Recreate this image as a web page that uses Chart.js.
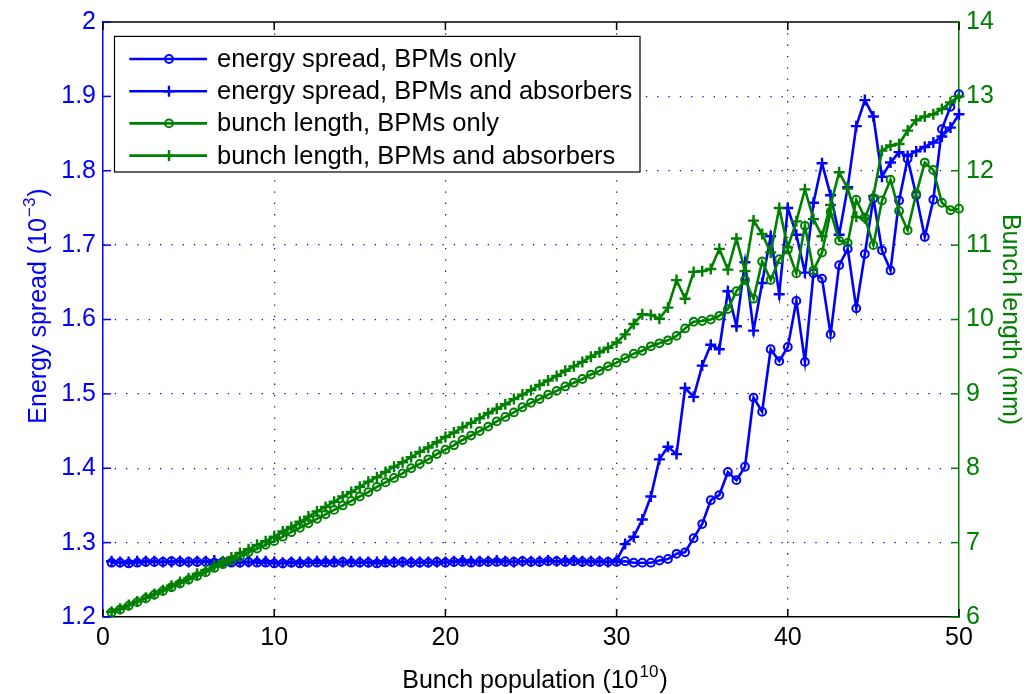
<!DOCTYPE html>
<html><head><meta charset="utf-8">
<script src="https://cdn.jsdelivr.net/npm/chart.js@4.4.1/dist/chart.umd.min.js"></script>
<style>html,body{margin:0;padding:0;background:#fff;overflow:hidden}#wrap{width:1030px;height:694px;position:relative}</style>
</head><body><div id="wrap"><canvas id="c" width="1030" height="694"></canvas></div>
<script>
const xValues = [
0.5,1,1.5,2,2.5,3,3.5,4,4.5,5,
5.5,6,6.5,7,7.5,8,8.5,9,9.5,10,
10.5,11,11.5,12,12.5,13,13.5,14,14.5,15,
15.5,16,16.5,17,17.5,18,18.5,19,19.5,20,
20.5,21,21.5,22,22.5,23,23.5,24,24.5,25,
25.5,26,26.5,27,27.5,28,28.5,29,29.5,30,
30.5,31,31.5,32,32.5,33,33.5,34,34.5,35,
35.5,36,36.5,37,37.5,38,38.5,39,39.5,40,
40.5,41,41.5,42,42.5,43,43.5,44,44.5,45,
45.5,46,46.5,47,47.5,48,48.5,49,49.5,50];

const energyBpmOnly = [
1.273,1.273,1.272,1.273,1.274,1.274,1.274,1.275,1.274,1.274,
1.274,1.274,1.273,1.274,1.273,1.273,1.274,1.273,1.273,1.272,
1.272,1.273,1.272,1.273,1.273,1.273,1.273,1.274,1.273,1.273,
1.273,1.272,1.273,1.273,1.274,1.273,1.273,1.273,1.274,1.273,
1.274,1.274,1.273,1.274,1.274,1.274,1.274,1.274,1.275,1.274,
1.274,1.275,1.275,1.274,1.275,1.274,1.274,1.274,1.274,1.274,
1.275,1.273,1.273,1.273,1.276,1.278,1.285,1.287,1.306,1.325,
1.357,1.364,1.395,1.384,1.402,1.495,1.476,1.560,1.544,1.563,
1.625,1.543,1.662,1.655,1.580,1.673,1.695,1.615,1.688,1.763,
1.693,1.666,1.760,1.816,1.767,1.711,1.761,1.856,1.886,1.903];

const energyBpmAbs = [
1.275,1.274,1.274,1.275,1.275,1.275,1.274,1.274,1.275,1.274,
1.275,1.275,1.276,1.274,1.275,1.274,1.274,1.275,1.275,1.274,
1.273,1.274,1.274,1.274,1.275,1.275,1.275,1.274,1.275,1.274,
1.274,1.274,1.275,1.274,1.274,1.274,1.274,1.274,1.274,1.274,
1.275,1.276,1.275,1.275,1.275,1.276,1.275,1.274,1.275,1.275,
1.275,1.276,1.275,1.276,1.276,1.275,1.275,1.275,1.274,1.276,
1.298,1.308,1.331,1.362,1.412,1.429,1.419,1.508,1.496,1.538,
1.566,1.560,1.638,1.591,1.677,1.585,1.649,1.712,1.634,1.750,
1.714,1.663,1.757,1.810,1.767,1.714,1.778,1.860,1.895,1.873,
1.792,1.811,1.825,1.820,1.826,1.832,1.838,1.846,1.858,1.876];

const lengthBpmOnly = [
6.06,6.10,6.15,6.20,6.25,6.30,6.35,6.40,6.45,6.50,
6.55,6.60,6.66,6.71,6.76,6.81,6.87,6.92,6.97,7.02,
7.08,7.14,7.20,7.26,7.32,7.38,7.44,7.50,7.56,7.62,
7.68,7.75,7.81,7.87,7.93,8.00,8.06,8.12,8.19,8.25,
8.31,8.38,8.44,8.50,8.56,8.63,8.69,8.75,8.82,8.88,
8.93,8.99,9.04,9.10,9.15,9.20,9.26,9.31,9.37,9.42,
9.48,9.54,9.58,9.64,9.68,9.72,9.78,9.88,9.97,9.98,
10.00,10.05,10.14,10.38,10.53,10.28,10.78,10.53,10.81,10.94,
10.62,11.26,10.66,10.90,11.45,11.06,11.03,11.61,11.37,11.00,
11.60,11.88,11.46,11.20,11.69,12.11,12.01,11.57,11.47,11.49];

const lengthBpmAbs = [
6.07,6.11,6.16,6.21,6.26,6.31,6.36,6.42,6.47,6.52,
6.58,6.63,6.69,6.75,6.80,6.86,6.91,6.97,7.02,7.08,
7.15,7.21,7.28,7.35,7.42,7.48,7.55,7.62,7.68,7.75,
7.82,7.88,7.95,8.02,8.08,8.15,8.22,8.28,8.35,8.42,
8.48,8.55,8.61,8.67,8.74,8.80,8.86,8.93,8.99,9.05,
9.12,9.18,9.24,9.31,9.37,9.43,9.50,9.56,9.62,9.69,
9.80,9.94,10.07,10.06,10.01,10.16,10.53,10.28,10.64,10.65,
10.68,10.95,10.67,11.09,10.65,11.33,11.15,10.90,11.50,10.97,
11.32,11.75,11.35,11.12,11.54,11.98,11.76,11.38,11.36,11.66,
12.27,12.34,12.36,12.54,12.68,12.73,12.76,12.83,12.92,13.00];

const seriesLabels = ['energy spread, BPMs only','energy spread, BPMs and absorbers','bunch length, BPMs only','bunch length, BPMs and absorbers'];
const xTickLabels = ['0','10','20','30','40','50'];
const leftTickLabels = ['1.2','1.3','1.4','1.5','1.6','1.7','1.8','1.9','2'];
const rightTickLabels = ['6','7','8','9','10','11','12','13','14'];
// axis titles: [base text, superscript, closing text]
const xTitleParts = ['Bunch population (10', '10', ')'];
const leftTitleParts = ['Energy spread (10', '\u22123', ')'];
const rightTitle = 'Bunch length (mm)';

const BLUE = '#0000ff', GREEN = '#008000';
const FONT = '"Liberation Sans", Arial, Helvetica, sans-serif';
const pts = arr => xValues.map((x, i) => ({x: x, y: arr[i]}));

const styles = [
  {color: BLUE, marker: 'circle', axis: 'y', data: energyBpmOnly, order: 3},
  {color: BLUE, marker: 'cross', axis: 'y', data: energyBpmAbs, order: 2},
  {color: GREEN, marker: 'circle', axis: 'y2', data: lengthBpmOnly, order: 1},
  {color: GREEN, marker: 'cross', axis: 'y2', data: lengthBpmAbs, order: 0}
];

function drawMarker(ctx, type, x, y, color) {
  ctx.save();
  ctx.strokeStyle = color;
  ctx.beginPath();
  if (type === 'circle') { ctx.lineWidth = 2; ctx.arc(x, y, 3.9, 0, Math.PI * 2); }
  else { ctx.lineWidth = 2.4; ctx.moveTo(x - 5.5, y); ctx.lineTo(x + 5.5, y); ctx.moveTo(x, y - 5.5); ctx.lineTo(x, y + 5.5); }
  ctx.stroke();
  ctx.restore();
}

// text with a raised superscript, centred on (0,0) of current transform
function drawSupText(ctx, parts, color) {
  const big = '25px ' + FONT, small = '17px ' + FONT;
  ctx.font = big; const w1 = ctx.measureText(parts[0]).width; const w3 = ctx.measureText(parts[2]).width;
  ctx.font = small; const w2 = ctx.measureText(parts[1]).width;
  const total = w1 + w2 + w3 + 2;
  let x = -total / 2;
  ctx.fillStyle = color;
  ctx.textBaseline = 'alphabetic';
  ctx.textAlign = 'left';
  ctx.font = big; ctx.fillText(parts[0], x, 9); x += w1 + 1;
  ctx.font = small; ctx.fillText(parts[1], x, -2); x += w2 + 1;
  ctx.font = big; ctx.fillText(parts[2], x, 9);
}

const framePlugin = {
  id: 'frame',
  afterDatasetsDraw(chart) {
    const {ctx, chartArea: a} = chart;
    const x0 = a.left + 11.5, y0 = a.top + 14.4, w = 525.5, h = 135.6;
    ctx.save();
    ctx.fillStyle = '#fff';
    ctx.fillRect(x0, y0, w, h);
    ctx.strokeStyle = '#000';
    ctx.lineWidth = 1.2;
    ctx.strokeRect(x0, y0, w, h);
    ctx.font = '25.5px ' + FONT;
    ctx.textBaseline = 'middle';
    ctx.textAlign = 'left';
    seriesLabels.forEach((lab, i) => {
      const cy = y0 + 22.6 + i * 32.2;
      const s = styles[i];
      ctx.strokeStyle = s.color; ctx.lineWidth = 2.6;
      ctx.beginPath(); ctx.moveTo(x0 + 14.8, cy); ctx.lineTo(x0 + 92.5, cy); ctx.stroke();
      drawMarker(ctx, s.marker, x0 + 54.5, cy, s.color);
      ctx.fillStyle = '#000';
      ctx.fillText(lab, x0 + 102.5, cy + 1);
    });
    ctx.restore();
  },
  afterDraw(chart) {
    const {ctx, chartArea: a, scales} = chart;
    const L = 8;
    ctx.save();
    ctx.strokeStyle = '#000'; ctx.lineWidth = 1.5;
    ctx.beginPath(); ctx.moveTo(a.left, a.top); ctx.lineTo(a.right, a.top); ctx.stroke();
    xTickLabels.forEach(t => {
      const px = scales.x.getPixelForValue(Number(t));
      ctx.beginPath();
      ctx.moveTo(px, a.bottom); ctx.lineTo(px, a.bottom - L);
      ctx.moveTo(px, a.top); ctx.lineTo(px, a.top + L);
      ctx.stroke();
    });
    ctx.strokeStyle = BLUE;
    leftTickLabels.forEach(t => {
      const py = scales.y.getPixelForValue(Number(t));
      ctx.beginPath(); ctx.moveTo(a.left, py); ctx.lineTo(a.left + L, py); ctx.stroke();
    });
    ctx.strokeStyle = GREEN;
    rightTickLabels.forEach(t => {
      const py = scales.y2.getPixelForValue(Number(t));
      ctx.beginPath(); ctx.moveTo(a.right, py); ctx.lineTo(a.right - L, py); ctx.stroke();
    });
    ctx.restore();
    // axis titles with superscripts
    ctx.save();
    ctx.translate((a.left + a.right) / 2 + 4, 679);
    drawSupText(ctx, xTitleParts, '#000');
    ctx.restore();
    ctx.save();
    ctx.translate(37, 306);
    ctx.rotate(-Math.PI / 2);
    drawSupText(ctx, leftTitleParts, BLUE);
    ctx.restore();
  }
};

const datasets = styles.map((s, i) => ({
  label: seriesLabels[i],
  data: pts(s.data),
  yAxisID: s.axis,
  order: s.order,
  borderColor: s.color,
  borderWidth: 2.6,
  pointStyle: s.marker,
  pointRadius: s.marker === 'circle' ? 3.9 : 5.5,
  pointBorderWidth: s.marker === 'circle' ? 2 : 2.4,
  pointBorderColor: s.color,
  pointBackgroundColor: 'rgba(0,0,0,0)',
  pointHoverRadius: 0,
  fill: false,
  tension: 0,
  clip: false
}));

Chart.defaults.font.family = FONT;

new Chart(document.getElementById('c'), {
  type: 'line',
  data: {datasets},
  plugins: [framePlugin],
  options: {
    responsive: false,
    animation: false,
    devicePixelRatio: 1,
    layout: {padding: {top: 17, left: 0, right: 0, bottom: 0}},
    plugins: {legend: {display: false}, tooltip: {enabled: false}},
    events: [],
    scales: {
      x: {
        type: 'linear', min: 0, max: 50,
        afterFit: s => { s.height = 77; },
        afterBuildTicks: s => { s.ticks = xTickLabels.map(v => ({value: Number(v)})); },
        ticks: {autoSkip: false, maxRotation: 0, color: '#000', font: {size: 25}, padding: 6,
          callback: (v) => { const i = xTickLabels.indexOf(String(v)); return i >= 0 ? xTickLabels[i] : ''; }},
        grid: {drawTicks: false, lineWidth: 1.3,
          color: c => (c.tick && (c.tick.value === 0 || c.tick.value === 50)) ? 'rgba(0,0,0,0)' : '#222'},
        border: {display: true, color: '#000', width: 1.5, dash: [1.3, 10]},
        title: {display: false}
      },
      y: {
        type: 'linear', position: 'left', min: 1.2, max: 2,
        afterFit: s => { s.width = 103; },
        afterBuildTicks: s => { s.ticks = leftTickLabels.map(v => ({value: Number(v)})); },
        ticks: {autoSkip: false, color: BLUE, font: {size: 25}, padding: 7,
          callback: (v, i) => leftTickLabels[i]},
        grid: {drawTicks: false, lineWidth: 1.3,
          color: c => (c.tick && (Math.abs(c.tick.value - 1.2) < 1e-6 || Math.abs(c.tick.value - 2) < 1e-6)) ? 'rgba(0,0,0,0)' : BLUE},
        border: {display: true, color: BLUE, width: 1.5, dash: [1.3, 10]},
        title: {display: false}
      },
      y2: {
        type: 'linear', position: 'right', min: 6, max: 14,
        afterFit: s => { s.width = 71; },
        afterBuildTicks: s => { s.ticks = rightTickLabels.map(v => ({value: Number(v)})); },
        ticks: {autoSkip: false, color: GREEN, font: {size: 25}, padding: 7,
          callback: (v, i) => rightTickLabels[i]},
        grid: {display: false, drawTicks: false},
        border: {display: true, color: GREEN, width: 1.5},
        title: {display: true, text: rightTitle, color: GREEN, font: {size: 25}, padding: {top: 5, bottom: 0}}
      }
    }
  }
});
</script></body></html>
